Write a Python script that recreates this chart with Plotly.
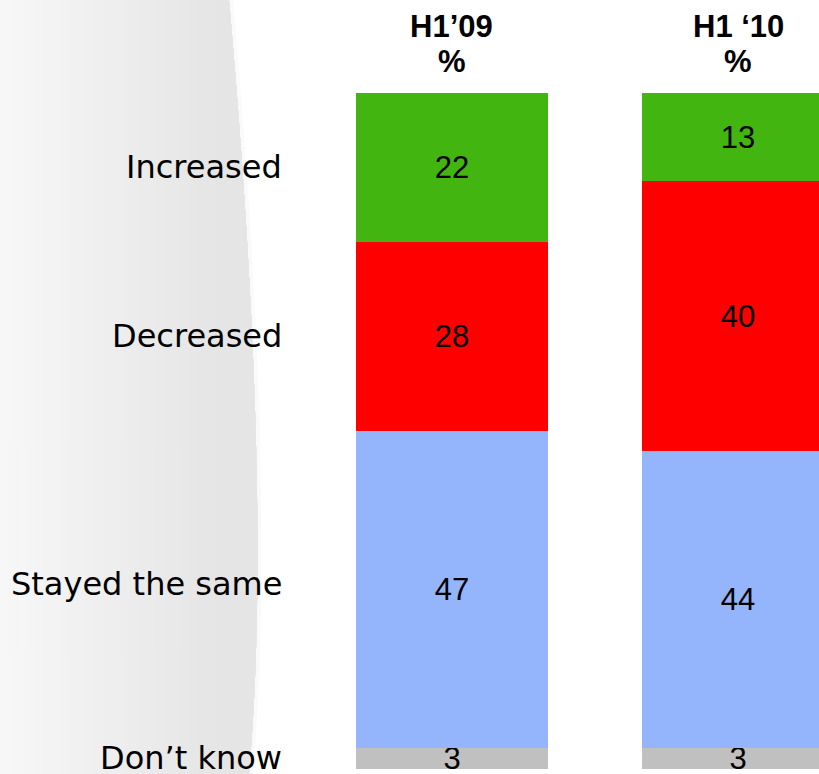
import plotly.graph_objects as go

# Survey periods and answer categories
periods = ["H1\u201909", "H1 \u201810"]
categories = ["Don\u2019t know", "Stayed the same", "Decreased", "Increased"]

# Share of respondents (%) per category, ordered bottom to top of the stack
dont_know = [3, 3]
stayed_same = [47, 44]
decreased = [28, 40]
increased = [22, 13]

series = [dont_know, stayed_same, decreased, increased]
colors = ["#C0C0C0", "#94B4FC", "#FF0000", "#43B511"]

W, H = 819, 774


def px(x):
    return x / W


def py(y):
    return 1 - y / H


fig = go.Figure()

for name, vals, col in zip(categories, series, colors):
    fig.add_trace(go.Bar(
        x=periods,
        y=vals,
        name=name,
        width=0.671,
        marker=dict(color=col, line=dict(width=0)),
        text=vals,
        texttemplate="%{text}",
        textposition="inside",
        insidetextanchor="middle",
        textangle=0,
        textfont=dict(family="Liberation Sans, Arial", size=31, color="#000000"),
        hoverinfo="skip",
    ))


# Soft grey panel on the left, with a curved right edge
def panel_path(x0, grow=0):
    return (f"M {px(x0)},{py(0)} L {px(229 + grow)},{py(0)} "
            f"Q {px(273 + grow)},{py(500)} {px(249 + grow)},{py(774)} "
            f"L {px(x0)},{py(774)} Z")


shapes = []
# faint fade just outside the edge
shapes.append(dict(type="path", xref="paper", yref="paper", path=panel_path(0, 4),
                   fillcolor="#FAFAFA", line=dict(width=0), layer="below"))
# stepped horizontal gradient, light on the left, darker toward the edge
n_layers = 26
light, dark = 247, 229
for i in range(n_layers):
    x0 = i * 8.6
    g = round(light + (dark - light) * i / (n_layers - 1))
    shapes.append(dict(type="path", xref="paper", yref="paper", path=panel_path(x0),
                       fillcolor=f"rgb({g},{g},{g})", line=dict(width=0),
                       layer="below"))

annotations = []
# Column headers
for p in periods:
    annotations.append(dict(x=p, xref="x", y=py(27), yref="paper", text=f"<b>{p}</b>",
                            showarrow=False, xanchor="center", yanchor="middle",
                            font=dict(family="Liberation Sans, Arial", size=31,
                                      color="#000000")))
    annotations.append(dict(x=p, xref="x", y=py(62), yref="paper", text="<b>%</b>",
                            showarrow=False, xanchor="center", yanchor="middle",
                            font=dict(family="Liberation Sans, Arial", size=31,
                                      color="#000000")))

# Row labels beside the first column's segments
base = 0
label_shift = [1, 6, 0, 0]
for name, vals, ys in zip(categories, series, label_shift):
    mid = base + vals[0] / 2
    base += vals[0]
    annotations.append(dict(x=px(284), xref="paper", y=mid, yref="y", text=name,
                            showarrow=False, xanchor="right", yanchor="middle",
                            yshift=ys,
                            font=dict(family="DejaVu Sans, Verdana", size=32,
                                      color="#000000")))

fig.update_layout(
    width=W, height=H,
    margin=dict(l=0, r=0, t=0, b=0),
    barmode="stack",
    bargap=0,
    showlegend=False,
    paper_bgcolor="#FFFFFF",
    plot_bgcolor="rgba(0,0,0,0)",
    uniformtext=dict(minsize=31, mode="show"),
    shapes=shapes,
    annotations=annotations,
    xaxis=dict(type="category", range=[-1.580, 1.283], visible=False, fixedrange=True),
    yaxis=dict(range=[-0.78, 113.76], visible=False, fixedrange=True),
)

fig.write_html("out.html", config={"displayModeBar": False})
